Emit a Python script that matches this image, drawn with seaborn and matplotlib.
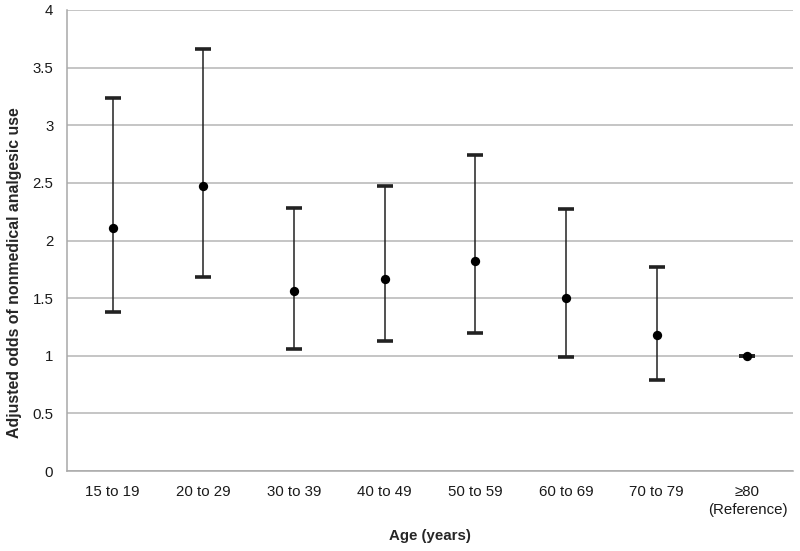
import numpy as np
import matplotlib
matplotlib.use("Agg")
import matplotlib.pyplot as plt
import seaborn as sns

# =============================================================================
# Data
# =============================================================================
age_groups = ["15 to 19", "20 to 29", "30 to 39", "40 to 49",
              "50 to 59", "60 to 69", "70 to 79", "\u226580\n(Reference)"]
odds_ratio = [2.11, 2.47, 1.56, 1.67, 1.82, 1.50, 1.18, 1.00]
ci_lower = [1.38, 1.68, 1.06, 1.13, 1.20, 0.99, 0.79, 1.00]
ci_upper = [3.24, 3.66, 2.28, 2.47, 2.74, 2.27, 1.77, 1.00]

# =============================================================================
# Style
# =============================================================================
sns.set_theme(style="white")
plt.rcParams["font.family"] = ["Liberation Sans", "DejaVu Sans"]

fig, ax = plt.subplots(figsize=(8, 5.51), dpi=100)
fig.subplots_adjust(left=0.084, right=0.991, bottom=0.145, top=0.982)

## Horizontal grid lines behind everything
ax.set_axisbelow(True)
ax.yaxis.grid(True, color="#b5b5b5", linewidth=1.1)

## Error bars (95% CI) on the categorical positions
pos = np.arange(len(age_groups))
lo = np.array(odds_ratio) - np.array(ci_lower)
hi = np.array(ci_upper) - np.array(odds_ratio)
ax.errorbar(pos, odds_ratio, yerr=[lo, hi], fmt="none", ecolor="#222222",
            elinewidth=1.1, capsize=5.6, capthick=2.6, zorder=2)

## Point estimates
sns.scatterplot(x=pos, y=odds_ratio, color="black", s=45, edgecolor="black",
                linewidth=0, ax=ax, zorder=3)

# =============================================================================
# Axes
# =============================================================================
ax.set_xlim(-0.5, len(age_groups) - 0.5)
ax.set_ylim(0, 4)
ax.set_yticks(np.arange(0, 4.01, 0.5))
ax.set_yticklabels(["0", "0.5", "1", "1.5", "2", "2.5", "3", "3.5", "4"])
ax.set_xticks(pos)
ax.set_xticklabels(age_groups, va="top", linespacing=1.35)
ax.tick_params(axis="both", length=0, labelsize=10.8, colors="#1a1a1a")
ax.tick_params(axis="x", pad=10)
ax.tick_params(axis="y", pad=10)

for side in ["top", "right"]:
    ax.spines[side].set_visible(False)
for side in ["left", "bottom"]:
    ax.spines[side].set_color("#a8a8a8")
    ax.spines[side].set_linewidth(1.1)

ax.set_xlabel("Age (years)", fontsize=10.8, fontweight="bold", labelpad=9)
ax.set_ylabel("Adjusted odds of nonmedical analgesic use", fontsize=11.4,
              fontweight="bold")
## Excel places the y title a little below the middle of the axis
ax.yaxis.set_label_coords(-0.062, 0.43)

plt.savefig("out.png", dpi=100)
